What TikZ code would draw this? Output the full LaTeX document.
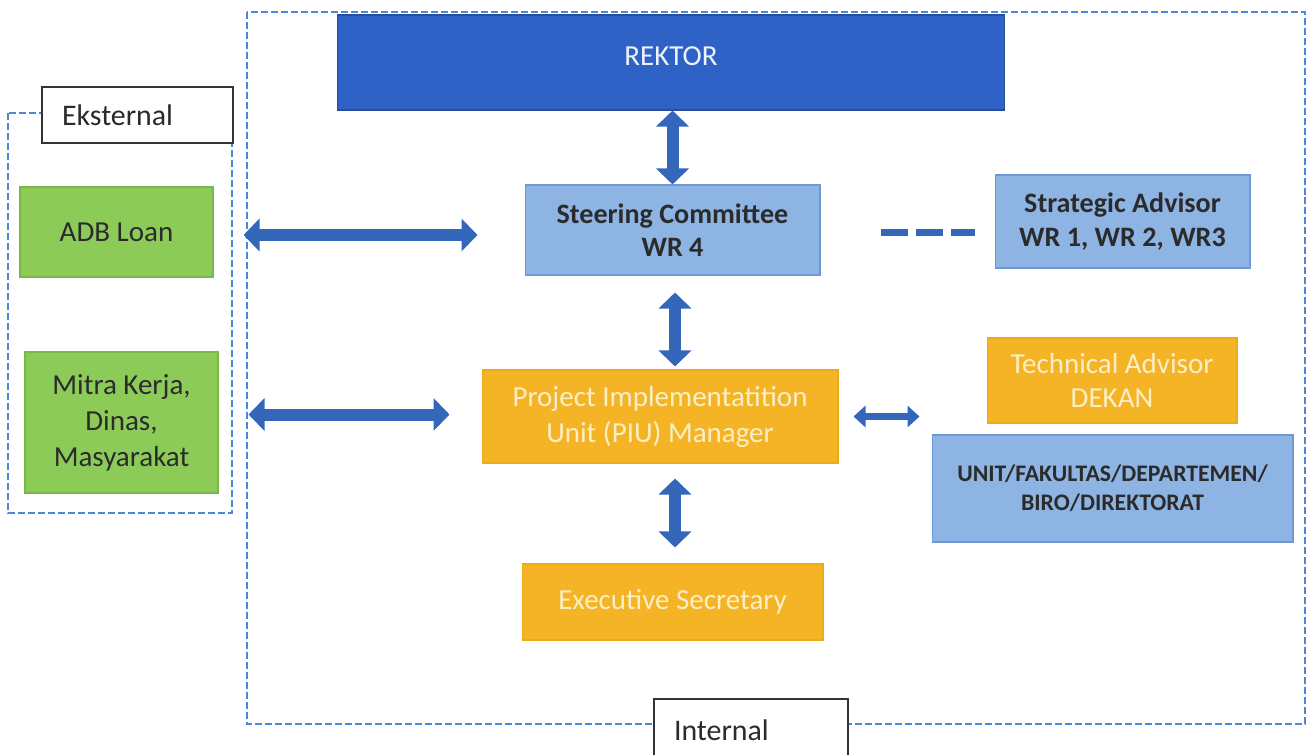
\documentclass[tikz,border=0pt]{standalone}
\usepackage{fontspec}
\setmainfont{Carlito}
\usetikzlibrary{arrows.meta,calc}

\definecolor{rektorblue}{HTML}{2F62C6}
\definecolor{rektorline}{HTML}{2A4E96}
\definecolor{lightblue}{HTML}{8EB4E3}
\definecolor{lightline}{HTML}{6E98D6}
\definecolor{leafgreen}{HTML}{8DCB59}
\definecolor{leafline}{HTML}{79B746}
\definecolor{amber}{HTML}{F5B425}
\definecolor{amberline}{HTML}{EFAA1A}
\definecolor{arrowblue}{HTML}{3467BA}
\definecolor{dashblue}{HTML}{4C88D6}
\definecolor{paletext}{HTML}{FCEFC6}
\definecolor{inktext}{HTML}{2B2B2B}

\begin{document}
\begin{tikzpicture}[x=0.02cm, y=-0.02cm,
  box/.style={rectangle, draw, line width=0.6pt, align=center, inner sep=0pt, font=\fontsize{16.5}{20.5}\selectfont},
  bluebox/.style={box, fill=lightblue, draw=lightline, text=inktext},
  greenbox/.style={box, fill=leafgreen, draw=leafline, text=inktext},
  amberbox/.style={box, fill=amber, draw=amberline, text=paletext},
  tagbox/.style={rectangle, draw=black!80, fill=white, line width=0.9pt, align=left, inner xsep=0.4cm, inner ysep=0pt, font=\fontsize{17}{20}\selectfont, text=inktext},
  zone/.style={draw=dashblue, line width=1.1pt, dash pattern=on 0.14cm off 0.06cm},
  link/.style={draw=arrowblue, line width=0.24cm, {Triangle[length=0.32cm,width=0.64cm]}-{Triangle[length=0.32cm,width=0.64cm]}},
  smalllink/.style={draw=arrowblue, line width=0.14cm, {Triangle[length=0.24cm,width=0.42cm]}-{Triangle[length=0.24cm,width=0.42cm]}},
  advline/.style={draw=arrowblue, line width=0.14cm, dash pattern=on 0.54cm off 0.16cm}
]
\useasboundingbox (0,0) rectangle (1310,754);
\clip (0,0) rectangle (1310,754);

% Internal and external zones
\draw[zone] (247,12) rectangle (1305,724);
\draw[zone] (8,113) rectangle (232,513);

% Top of the structure
\node[rectangle, fill=rektorblue, draw=rektorline, line width=0.6pt, minimum width=13.36cm, minimum height=1.9cm, text=white!92!rektorblue, font=\fontsize{16.5}{20}\selectfont] (rektor) at (671,62.5) {\raisebox{0.26cm}{REKTOR}};
\node[bluebox, minimum width=5.9cm, minimum height=1.8cm, font=\fontsize{16}{18.5}\selectfont\bfseries] (steer) at (672.5,230) {Steering Committee\\WR 4};
\node[bluebox, minimum width=5.1cm, minimum height=1.86cm, font=\fontsize{16}{19.3}\selectfont\bfseries] (strat) at (1122.5,221.5) {Strategic Advisor\\WR 1, WR 2, WR3};

% External partners
\node[greenbox, minimum width=3.86cm, minimum height=1.8cm] (adb) at (116.5,232) {ADB Loan};
\node[greenbox, minimum width=3.86cm, minimum height=2.82cm] (mitra) at (121.5,422.5) {Mitra Kerja,\\Dinas,\\Masyarakat};

% PIU level
\node[amberbox, minimum width=7.12cm, minimum height=1.86cm] (piu) at (660,416.5) {Project Implementatition\\Unit (PIU) Manager};
\node[amberbox, minimum width=5cm, minimum height=1.7cm, font=\fontsize{16.5}{19}\selectfont] (tech) at (1112,380.5) {Technical Advisor\\DEKAN};
\node[bluebox, minimum width=7.22cm, minimum height=2.14cm, font=\fontsize{13.5}{16.4}\selectfont\bfseries] (unit) at (1112.5,488.5) {UNIT/FAKULTAS/DEPARTEMEN/\\BIRO/DIREKTORAT};
\node[amberbox, minimum width=6.02cm, minimum height=1.52cm] (exec) at (672.5,602) {Executive Secretary};

% Zone labels
\node[tagbox, text width=3.02cm, minimum height=1.12cm] (ekst) at (137.5,115) {Eksternal};
\node[tagbox, text width=3.08cm, minimum height=1.24cm] (intl) at (751,730) {Internal};

% Connectors
\draw[link] (steer.north) -- (steer.north |- rektor.south);
\draw[link] ($(steer.south)+(2.5,17)$) -- ($(steer.south |- piu.north)+(2.5,-3)$);
\draw[link] ($(piu.south -| steer.south)+(2.5,15)$) -- ($(steer.south |- exec.north)+(2.5,-16)$);
\draw[link] ($(adb.east)+(30,3)$) -- ($(steer.west |- adb.east)+(-47,3)$);
\draw[link] ($(mitra.east |- piu.west)+(30,-2)$) -- ($(piu.west)+(-32,-2)$);
\draw[smalllink] ($(piu.east)+(15,0)$) -- ($(tech.west |- piu.east)+(-67,0)$);
\draw[advline] ($(steer.east)+(60,2)$) -- ($(steer.east -| strat.west)+(-20,2)$);
\end{tikzpicture}
\end{document}
